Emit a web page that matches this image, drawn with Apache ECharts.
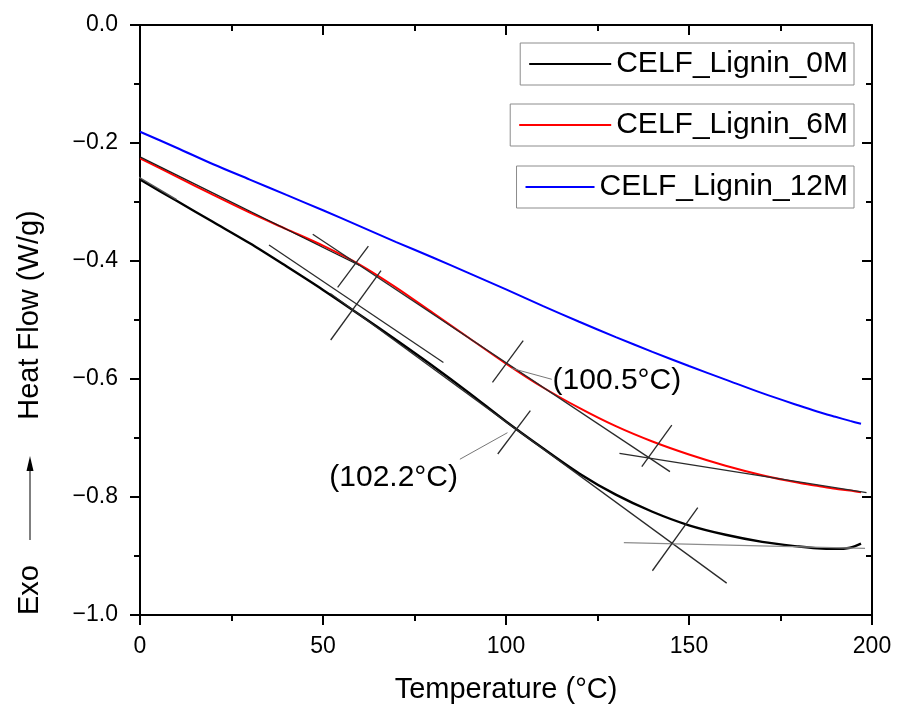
<!DOCTYPE html>
<html>
<head>
<meta charset="utf-8">
<script src="https://cdn.jsdelivr.net/npm/echarts@6/dist/echarts.min.js"></script>
<style>
  html, body { margin: 0; padding: 0; background: #fff; }
  #chart { width: 897px; height: 706px; }
</style>
</head>
<body>
<div id="chart"></div>
<script>
// DSC heat-flow curves (W/g) against temperature (°C)
const temperature = [0, 10, 20, 30, 40, 50, 60, 70, 80, 90, 100, 110, 120, 130, 140, 150, 160, 170, 180, 185, 190, 194, 197];
const lignin0M  = [-0.262, -0.298, -0.334, -0.370, -0.409, -0.449, -0.491, -0.534, -0.578, -0.624, -0.672, -0.717, -0.760, -0.796, -0.825, -0.848, -0.864, -0.876, -0.884, -0.887, -0.888, -0.886, -0.879];
const lignin6M  = [-0.226, -0.257, -0.288, -0.318, -0.346, -0.374, -0.406, -0.445, -0.488, -0.531, -0.574, -0.614, -0.649, -0.680, -0.706, -0.728, -0.747, -0.763, -0.776, -0.781, -0.786, -0.789, -0.792];
const lignin12M = [-0.181, -0.208, -0.236, -0.262, -0.288, -0.314, -0.341, -0.368, -0.394, -0.421, -0.448, -0.476, -0.503, -0.529, -0.554, -0.578, -0.601, -0.624, -0.645, -0.655, -0.664, -0.671, -0.676];
const seriesNames = ['CELF_Lignin_0M', 'CELF_Lignin_6M', 'CELF_Lignin_12M'];
const seriesColors = ['#000000', '#ff0000', '#0000ff'];

// Glass transition temperatures (°C)
const tg6M = 100.5;
const tg0M = 102.2;

// Tangent construction, CELF_Lignin_6M
const redOnsetBaseline     = [[0, -0.2235], [60, -0.4075]];
const redInflectionTangent = [[47.2, -0.3547], [144.8, -0.757]];
const redEndBaseline       = [[131.0, -0.726], [198.5, -0.7927]];
const redOnsetMark         = [[54.0, -0.4446], [62.4, -0.3746]];
const redTgMark            = [[tg6M - 4.2, -0.6056], [tg6M + 4.2, -0.535]];
const redEndMark           = [[137.1, -0.7486], [145.3, -0.678]];
const redLeader            = [[101.6, -0.582], [112.5, -0.6005]];

// Tangent construction, CELF_Lignin_0M
const blackStartBaseline     = [[-1.8, -0.2525], [10, -0.296]];
const blackOnsetBaseline     = [[35.25, -0.373], [82.9, -0.572]];
const blackInflectionTangent = [[52, -0.455], [160.3, -0.946]];
const blackEndBaseline       = [[132.2, -0.8774], [198.1, -0.887]];
const blackOnsetMark         = [[52.1, -0.5339], [65.85, -0.4164]];
const blackTgMark            = [[tg0M - 4.45, -0.7271], [tg0M + 4.45, -0.6537]];
const blackEndMark           = [[140.0, -0.925], [152.4, -0.818]];
const blackLeader            = [[87.4, -0.736], [100.4, -0.691]];

// Tg label anchors (centre of text)
const tgLabelTemps  = [130.3, 69.3];
const tgLabelValues = [-0.603, -0.768];
const tgLabelTexts  = ['(' + tg6M.toFixed(1) + '°C)', '(' + tg0M.toFixed(1) + '°C)'];

const FONT = '"Liberation Sans", Arial, Helvetica, sans-serif';

function pairs(xs, ys) { return xs.map((x, i) => [x, ys[i]]); }

function curve(name, values, color, width) {
  return {
    name, type: 'line', data: pairs(temperature, values),
    symbol: 'none', showSymbol: false, smooth: 0.3,
    lineStyle: { color, width }, itemStyle: { color },
    z: 2, silent: true
  };
}

function segment(data, color, width, clip) {
  return {
    type: 'line', data, symbol: 'none', silent: true,
    clip: clip !== false,
    lineStyle: { color, width }, z: 3
  };
}

const fmtTick = v => v.toFixed(1).replace('-', '\u2212');

function legendBox(name, top, iconWidth) {
  return {
    data: [{ name, icon: 'rect' }], right: 43, top,
    orient: 'horizontal',
    itemWidth: iconWidth, itemHeight: 2,
    borderColor: '#8c8c8c', borderWidth: 1, borderRadius: 0,
    padding: [6, 6, 6, 9],
    selectedMode: false,
    textStyle: { fontFamily: FONT, fontSize: 30, color: '#000' }
  };
}

const chart = echarts.init(document.getElementById('chart'), null, { renderer: 'canvas' });

chart.setOption({
  animation: false,
  backgroundColor: '#fff',
  grid: { left: 140, right: 25, top: 25, bottom: 91, containLabel: false, outerBoundsMode: 'none' },
  legend: [
    legendBox(seriesNames[0], 43, 82),
    legendBox(seriesNames[1], 104, 92),
    legendBox(seriesNames[2], 166, 69)
  ],
  xAxis: [
    {
      type: 'value', min: 0, max: 200, interval: 50, position: 'bottom',
      name: 'Temperature (°C)', nameLocation: 'middle', nameGap: 60,
      nameTextStyle: { fontFamily: FONT, fontSize: 29, color: '#000' },
      axisLine: { show: true, onZero: false, lineStyle: { color: '#000', width: 2 } },
      axisTick: { show: true, inside: false, length: 10, lineStyle: { color: '#000', width: 2 } },
      minorTick: { show: true, splitNumber: 2, length: 6, lineStyle: { color: '#000', width: 2 } },
      axisLabel: { margin: 20, fontFamily: FONT, fontSize: 23, color: '#000' },
      splitLine: { show: false }
    },
    {
      type: 'value', min: 0, max: 200, interval: 50, position: 'top',
      axisLine: { show: true, onZero: false, lineStyle: { color: '#000', width: 2 } },
      axisTick: { show: true, inside: true, length: 10, lineStyle: { color: '#000', width: 2 } },
      minorTick: { show: true, splitNumber: 2, length: 6, lineStyle: { color: '#000', width: 2 } },
      axisLabel: { show: false },
      splitLine: { show: false }
    }
  ],
  yAxis: [
    {
      type: 'value', min: -1.0, max: 0, interval: 0.2, position: 'left',
      name: 'Heat Flow (W/g)', nameLocation: 'middle', nameGap: 96,
      nameTextStyle: { fontFamily: FONT, fontSize: 29, color: '#000', padding: [0, 0, 0, 10] },
      axisLine: { show: true, onZero: false, lineStyle: { color: '#000', width: 2 } },
      axisTick: { show: true, inside: false, length: 10, lineStyle: { color: '#000', width: 2 } },
      minorTick: { show: true, splitNumber: 2, length: 6, lineStyle: { color: '#000', width: 2 } },
      axisLabel: { margin: 22, fontFamily: FONT, fontSize: 23, color: '#000', formatter: fmtTick },
      splitLine: { show: false }
    },
    {
      type: 'value', min: -1.0, max: 0, interval: 0.2, position: 'right',
      axisLine: { show: true, onZero: false, lineStyle: { color: '#000', width: 2 } },
      axisTick: { show: true, inside: true, length: 10, lineStyle: { color: '#000', width: 2 } },
      minorTick: { show: true, splitNumber: 2, length: 6, lineStyle: { color: '#000', width: 2 } },
      axisLabel: { show: false },
      splitLine: { show: false }
    }
  ],
  graphic: [
    {
      type: 'text', x: 30, y: 590, rotation: Math.PI / 2,
      style: { text: 'Exo', fontFamily: FONT, fontSize: 29, fill: '#000', align: 'center', verticalAlign: 'middle' }
    },
    { type: 'line', shape: { x1: 30, y1: 540, x2: 30, y2: 468 }, style: { stroke: '#000', lineWidth: 1 } },
    { type: 'polygon', shape: { points: [[30, 456], [26.5, 471], [33.5, 471]] }, style: { fill: '#000' } }
  ],
  series: [
    curve(seriesNames[0], lignin0M, seriesColors[0], 2.4),
    curve(seriesNames[1], lignin6M, seriesColors[1], 2),
    curve(seriesNames[2], lignin12M, seriesColors[2], 2),

    segment(redOnsetBaseline, '#1a1a1a', 1.2),
    segment(redInflectionTangent, '#2a2a2a', 1.3),
    segment(redEndBaseline, '#2a2a2a', 1.3),
    segment(redOnsetMark, '#2a2a2a', 1.3),
    segment(redTgMark, '#2a2a2a', 1.3),
    segment(redEndMark, '#2a2a2a', 1.3),
    segment(redLeader, '#777777', 1),

    segment(blackStartBaseline, '#555555', 1.3, false),
    segment(blackOnsetBaseline, '#2a2a2a', 1.3),
    segment(blackInflectionTangent, '#2a2a2a', 1.3),
    segment(blackEndBaseline, '#8c8c8c', 1.3),
    segment(blackOnsetMark, '#2a2a2a', 1.3),
    segment(blackTgMark, '#2a2a2a', 1.3),
    segment(blackEndMark, '#2a2a2a', 1.3),
    segment(blackLeader, '#777777', 1),

    {
      type: 'scatter', silent: true, symbolSize: 0, z: 4,
      data: tgLabelTemps.map((t, i) => ({ value: [t, tgLabelValues[i]], label: { formatter: tgLabelTexts[i] } })),
      label: {
        show: true, position: 'inside', opacity: 1,
        fontFamily: FONT, fontSize: 30, color: '#000', textBorderWidth: 0
      }
    }
  ]
});
</script>
</body>
</html>
